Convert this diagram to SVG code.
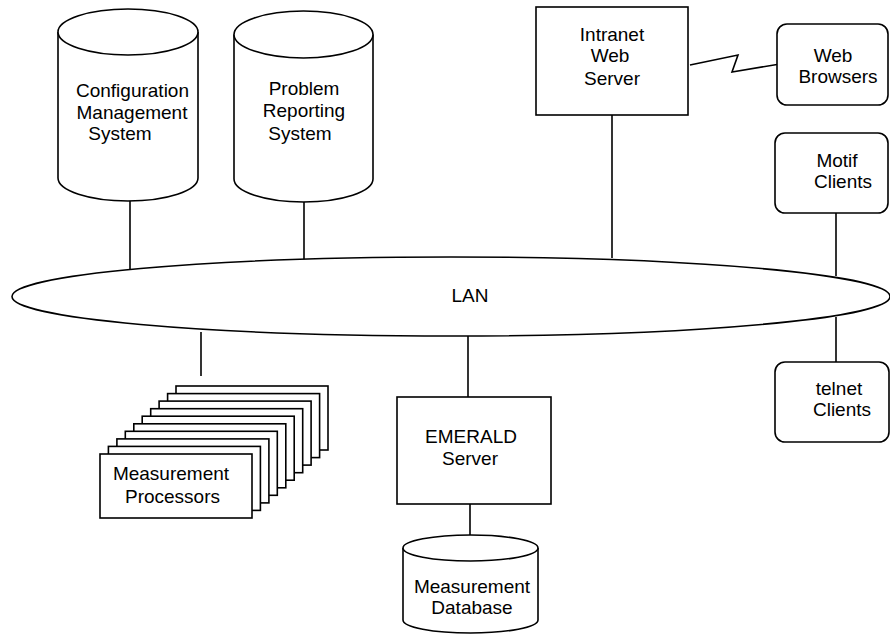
<svg xmlns="http://www.w3.org/2000/svg" width="890" height="635" viewBox="0 0 890 635">
<style>
.s{fill:#fff;stroke:#000;stroke-width:1.6}
.l{fill:none;stroke:#000;stroke-width:1.6}
text{font-family:"Liberation Sans",Arial,sans-serif;font-size:19px;fill:#000;text-anchor:middle}
</style>
<rect width="890" height="635" fill="#fff"/>
<g id="connectors">
<line class="l" x1="130" y1="200" x2="130" y2="270"/>
<line class="l" x1="304" y1="201" x2="304" y2="260"/>
<line class="l" x1="612" y1="115" x2="612" y2="258"/>
<line class="l" x1="836" y1="213" x2="836" y2="276"/>
<line class="l" x1="836" y1="317" x2="836" y2="362"/>
<line class="l" x1="201" y1="332" x2="201" y2="376"/>
<line class="l" x1="468" y1="336" x2="468" y2="397"/>
<line class="l" x1="470" y1="504" x2="470" y2="536"/>
<polyline class="l" points="690,65 738,55 732,72 780,64"/>
</g>
<g id="lan">
<ellipse class="s" cx="451" cy="296.5" rx="439" ry="39.5"/>
<text x="470" y="302">LAN</text>
</g>
<g id="config">
<path class="s" d="M58,32 L58,178 A70,23 0 0 0 198,178 L198,32"/>
<ellipse class="s" cx="128" cy="32" rx="70" ry="23"/>
<text x="132.5" y="97">Configuration</text>
<text x="132" y="119">Management</text>
<text x="120" y="140">System</text>
</g>
<g id="problem">
<path class="s" d="M234,34.5 L234,179 A69.5,23 0 0 0 373,179 L373,34.5"/>
<ellipse class="s" cx="303.5" cy="34.5" rx="69.5" ry="23.5"/>
<text x="304" y="95">Problem</text>
<text x="304" y="117">Reporting</text>
<text x="300" y="140">System</text>
</g>
<g id="intranet">
<rect class="s" x="536" y="7" width="152" height="108"/>
<text x="612" y="41">Intranet</text>
<text x="610" y="62">Web</text>
<text x="612" y="85">Server</text>
</g>
<g id="browsers">
<rect class="s" x="777" y="24" width="111" height="81" rx="10"/>
<text x="833" y="62">Web</text>
<text x="838" y="83">Browsers</text>
</g>
<g id="motif">
<rect class="s" x="775" y="133" width="113" height="80" rx="10"/>
<text x="837" y="167">Motif</text>
<text x="843" y="188">Clients</text>
</g>
<g id="telnet">
<rect class="s" x="775" y="362" width="114" height="80" rx="10"/>
<text x="839" y="395">telnet</text>
<text x="842" y="416">Clients</text>
</g>
<g id="processors">
<rect class="s" x="176" y="386" width="152" height="64"/>
<rect class="s" x="167.6" y="393.6" width="152" height="64"/>
<rect class="s" x="159.1" y="401.1" width="152" height="64"/>
<rect class="s" x="150.7" y="408.7" width="152" height="64"/>
<rect class="s" x="142.2" y="416.2" width="152" height="64"/>
<rect class="s" x="133.8" y="423.8" width="152" height="64"/>
<rect class="s" x="125.3" y="431.3" width="152" height="64"/>
<rect class="s" x="116.9" y="438.9" width="152" height="64"/>
<rect class="s" x="108.4" y="446.4" width="152" height="64"/>
<rect class="s" x="100" y="454" width="152" height="64"/>
<text x="171" y="480">Measurement</text>
<text x="172.5" y="503">Processors</text>
</g>
<g id="emerald">
<rect class="s" x="397" y="397" width="154" height="107"/>
<text x="471" y="443">EMERALD</text>
<text x="470" y="465">Server</text>
</g>
<g id="database">
<path class="s" d="M403,548 L403,620 A67.5,13 0 0 0 538,620 L538,548"/>
<ellipse class="s" cx="470.5" cy="548" rx="67.5" ry="13"/>
<text x="472" y="593">Measurement</text>
<text x="472" y="614">Database</text>
</g>
</svg>
